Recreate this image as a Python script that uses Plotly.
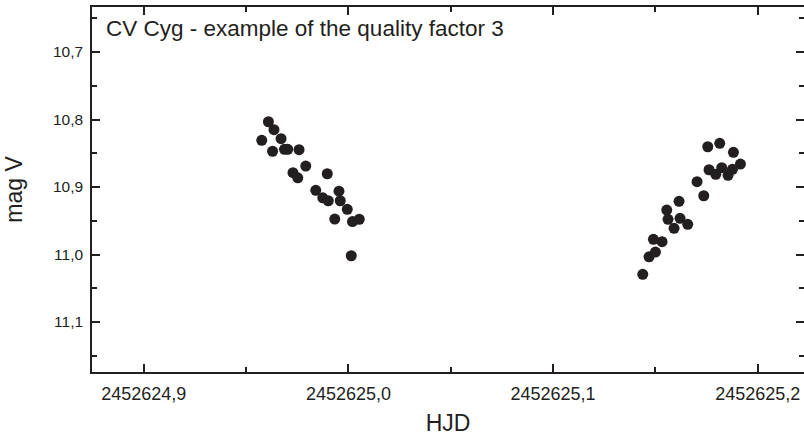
import plotly.graph_objects as go

# HJD values and V magnitudes
hjd = [
    2452624.95765, 2452624.96090, 2452624.96362, 2452624.96293, 2452624.96708,
    2452624.96875, 2452624.97036, 2452624.97588, 2452624.97915, 2452624.97290,
    2452624.97524, 2452624.98966, 2452624.98404, 2452624.99537, 2452624.98746,
    2452624.99014, 2452624.99601, 2452624.99943, 2452624.99332, 2452625.00197,
    2452625.00529, 2452625.00138,
    2452625.14381, 2452625.14689, 2452625.15001, 2452625.14903, 2452625.15324,
    2452625.15553, 2452625.15617, 2452625.15910, 2452625.16203, 2452625.16579,
    2452625.16154, 2452625.17034, 2452625.17361, 2452625.17557, 2452625.17620,
    2452625.17948, 2452625.18143, 2452625.18241, 2452625.18549, 2452625.18812,
    2452625.18764, 2452625.19154,
]

mag_v = [
    10.8308, 10.8033, 10.8151, 10.8470, 10.8284,
    10.8441, 10.8441, 10.8447, 10.8689, 10.8788,
    10.8864, 10.8803, 10.9049, 10.9062, 10.9159,
    10.9203, 10.9203, 10.9330, 10.9474, 10.9511,
    10.9477, 11.0018,
    11.0293, 11.0033, 10.9963, 10.9775, 10.9810,
    10.9341, 10.9479, 10.9612, 10.9464, 10.9553,
    10.9212, 10.8921, 10.9129, 10.8403, 10.8744,
    10.8812, 10.8353, 10.8714, 10.8827, 10.8486,
    10.8738, 10.8659,
]

title_text = "CV Cyg - example of the quality factor 3"
x_title = "HJD"
y_title = "mag V"

x_range = [2452624.8747, 2452625.2226]
y_range = [11.174, 10.6333]

ink = "#231f20"
font_family = "Liberation Sans, Arial, sans-serif"

fig = go.Figure()
fig.add_trace(go.Scatter(
    x=hjd, y=mag_v, mode="markers",
    marker=dict(size=11, color=ink, line=dict(width=0)),
    showlegend=False, hoverinfo="skip",
))
# empty trace to activate mirrored axes (top and right)
fig.add_trace(go.Scatter(x=[], y=[], xaxis="x2", yaxis="y2", showlegend=False))

axis_common = dict(
    ticks="inside", ticklen=8, tickwidth=1.5, tickcolor=ink,
    showgrid=False, zeroline=False, linecolor=ink, linewidth=1.5,
    dtick=0.1, tickformat=".1f", automargin=False,
    minor=dict(ticks="inside", ticklen=5, tickwidth=1.5, tickcolor=ink, dtick=0.05, showgrid=False),
)

fig.update_layout(
    width=804, height=436,
    margin=dict(l=92, r=0, t=7, b=64),
    paper_bgcolor="white", plot_bgcolor="white",
    separators=", ",
    font=dict(family=font_family, color=ink, size=17),
    xaxis=dict(
        range=x_range, tick0=2452624.9, showline=True,
        title=dict(text=x_title, font=dict(size=23), standoff=14),
        tickfont=dict(size=18), ticklabelstandoff=5, **axis_common,
    ),
    yaxis=dict(
        range=y_range, tick0=10.7, showline=True,
        title=dict(text=y_title, font=dict(size=23), standoff=24),
        tickfont=dict(size=15.5), ticklabelstandoff=4, **axis_common,
    ),
    xaxis2=dict(
        range=x_range, tick0=2452624.9, overlaying="x", side="top", anchor="y",
        showline=True, showticklabels=False, **axis_common,
    ),
    yaxis2=dict(
        range=y_range, tick0=10.7, overlaying="y", side="right", anchor="x",
        showline=False, showticklabels=False, **axis_common,
    ),
    annotations=[dict(
        text=title_text, xref="paper", yref="paper",
        x=(104 - 92) / 712, y=(372 - 29) / 365, xanchor="left", yanchor="middle",
        showarrow=False, font=dict(size=22.5, color=ink, family=font_family),
    )],
)

fig.write_html(
    "out.html",
    config={"displayModeBar": False},
    post_script="document.body.style.margin='0';document.body.style.padding='0';",
)
